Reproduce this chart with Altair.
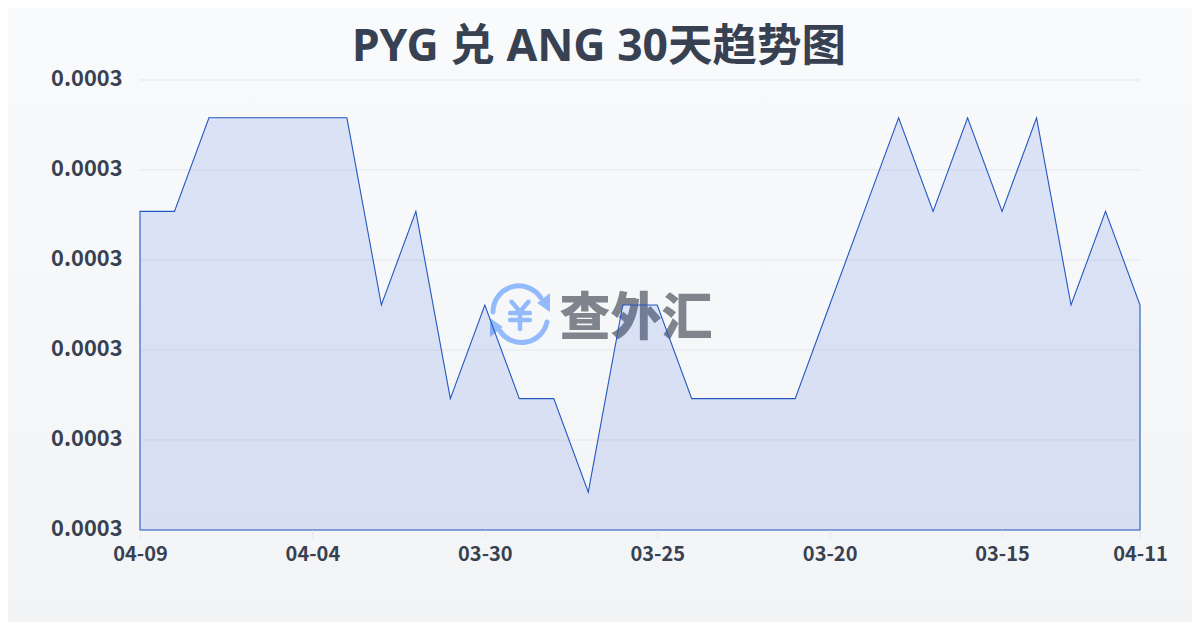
import altair as alt
import pandas as pd

dates = ["04-09","04-08","04-07","04-06","04-05","04-04","04-03","04-02","04-01","03-31",
         "03-30","03-29","03-28","03-27","03-26","03-25","03-24","03-23","03-22","03-21",
         "03-20","03-19","03-18","03-17","03-16","03-15","03-14","03-13","03-12","04-11"]
rates = [0.00028354,0.00028354,0.00028458,0.00028458,0.00028458,0.00028458,0.00028458,0.0002825,0.00028354,0.00028146,
         0.0002825,0.00028146,0.00028146,0.00028042,0.0002825,0.0002825,0.00028146,0.00028146,0.00028146,0.00028146,
         0.0002825,0.00028354,0.00028458,0.00028354,0.00028458,0.00028354,0.00028458,0.0002825,0.00028354,0.0002825]
x_ticks = [0, 5, 10, 15, 20, 25, 29]
y_ticks = [0.00028,0.000281,0.000282,0.000283,0.000284,0.000285]
title_text = "PYG 兑 ANG 30天趋势图"
brand = "查外汇"

LATIN = "Noto Sans, Noto Sans CJK SC, sans-serif"
CJK = "Noto Sans CJK SC, sans-serif"

df = pd.DataFrame({"i": range(len(dates)), "date": dates, "rate": rates, "base": [y_ticks[0]] * len(dates)})
xs = alt.Scale(domain=[0, len(dates) - 1], nice=False, zero=False)
ys = alt.Scale(domain=[y_ticks[0], y_ticks[-1]], zero=False, nice=False)

y_axis = alt.Axis(values=y_ticks, format=".4f", title=None, domain=False, grid=False, ticks=False,
                  labelPadding=18, labelFont=CJK, labelFontSize=21.8, labelFontWeight="bold",
                  labelColor="#374151", zindex=1, labelBaseline="middle", labelOffset=-2)

bg = alt.Chart(df.head(1)).mark_rect(
    color=alt.Gradient(gradient="linear", x1=0, x2=0, y1=0, y2=1,
                       stops=[alt.GradientStop(color="#f8fafc", offset=0),
                              alt.GradientStop(color="#f3f4f6", offset=1)])
).encode(x=alt.value(-132), x2=alt.value(1052), y=alt.value(-72), y2=alt.value(542))

title = alt.Chart(df.head(1)).mark_text(
    font=LATIN, fontSize=44.5, fontWeight="bold", color="#374151", align="center", baseline="middle"
).encode(x=alt.value(459), y=alt.value(-32.5), text=alt.value(title_text))

grid = alt.Chart(pd.DataFrame({"t": y_ticks})).mark_rule(color="#e5e7eb", strokeWidth=1).encode(
    y=alt.Y("t:Q", scale=ys, axis=y_axis), x=alt.value(0), x2=alt.value(1000))

word = alt.Chart(df.head(1)).mark_text(
    font=CJK, fontSize=51, fontWeight=900, color="#80858d", align="center", baseline="middle"
).encode(x=alt.value(496), y=alt.value(240), text=alt.value(brand))

LOGO_BLUE = "#93bbfb"
arcs = alt.Chart(df.head(1)).mark_point(
    shape="M -0.9 -0.1 A 0.867 0.867 0 0 1 0.7 -0.567 M 0.9 0.233 A 0.867 0.867 0 0 1 -0.667 0.533",
    size=3600, filled=False, stroke=LOGO_BLUE, strokeWidth=5, strokeCap="round", opacity=1
).encode(x=alt.value(380), y=alt.value(235))
heads = alt.Chart(df.head(1)).mark_point(
    shape="M 1 -0.73 L 1 -0.1 L 0.57 -0.4 Z M -1 0.73 L -1 0.1 L -0.57 0.4 Z",
    size=3600, filled=True, fill=LOGO_BLUE, opacity=1, strokeWidth=0
).encode(x=alt.value(380), y=alt.value(235))
yen = alt.Chart(df.head(1)).mark_point(
    shape="M -0.28 -0.44 L 0 -0.11 L 0.28 -0.44 M -0.33 -0.07 L 0.33 -0.07 M -0.33 0.17 L 0.33 0.17 M 0 -0.11 L 0 0.47",
    size=3600, filled=False, stroke=LOGO_BLUE, strokeWidth=4.5, strokeCap="round", opacity=1
).encode(x=alt.value(380), y=alt.value(235))

label_expr = "[" + ",".join(f"'{d}'" for d in dates) + "][datum.value]"
area = alt.Chart(df).mark_area(
    fill="#1d4ed8", fillOpacity=0.13, stroke="#2458c0", strokeWidth=1.1, interpolate="linear"
).encode(
    x=alt.X("i:Q", scale=xs,
            axis=alt.Axis(values=x_ticks, labelExpr=label_expr, title=None, labelAngle=0, domain=False, grid=False,
                          tickColor="#e5e7eb", tickSize=8, labelPadding=6,
                          labelFont=CJK, labelFontSize=20, labelFontWeight="bold",
                          labelColor="#374151", zindex=1, labelOverlap=False, labelFlush=False)),
    y=alt.Y("rate:Q", scale=ys, axis=y_axis),
    y2=alt.Y2("base:Q"),
)

chart = alt.layer(bg, title, grid, word, arcs, heads, yen, area).properties(
    width=1000, height=450,
    padding={"left": 132, "top": 72, "right": 52, "bottom": 92},
    autosize=alt.AutoSizeParams(type="none"),
).configure_view(stroke=None)

chart.save("out.html", embed_options={"renderer": "svg", "actions": False})
